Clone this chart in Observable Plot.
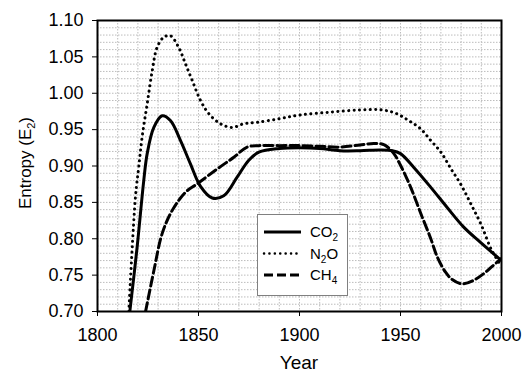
<!DOCTYPE html>
<html><head><meta charset="utf-8">
<script src="https://cdn.jsdelivr.net/npm/d3@7"></script>
<script src="https://cdn.jsdelivr.net/npm/@observablehq/plot@0.6"></script>
<style>
body{margin:0;background:#fff}
#chart svg{font-family:"Liberation Sans",Arial,sans-serif;display:block}
</style>
</head><body><div id="chart"></div>
<script>
const xTicks = [1800, 1850, 1900, 1950, 2000];
const yTicks = [0.70, 0.75, 0.80, 0.85, 0.90, 0.95, 1.00, 1.05, 1.10];

const co2Year = [1816.0,1819.6,1822.9,1824.6,1827.9,1832.0,1836.1,1841.1,1846.0,1851.0,1856.8,1862.5,1869.2,1874.9,1879.9,1890,1900,1910,1920,1930,1940,1946,1950,1956.6,1964.9,1973.1,1981.3,1989.6,2000];
const co2Value = [0.70,0.788,0.88,0.917,0.953,0.969,0.9625,0.935,0.903,0.872,0.856,0.859,0.885,0.908,0.919,0.924,0.925,0.924,0.921,0.921,0.922,0.921,0.917,0.898,0.871,0.843,0.816,0.795,0.770];

const n2oYear = [1815.5,1818.8,1820.4,1822.1,1824.6,1827.1,1829.5,1832.8,1836.1,1840.2,1843.6,1846.9,1851.0,1855.1,1860.9,1866.7,1872.4,1879,1890,1900,1915,1930,1941,1948,1954,1960,1965,1970,1975,1980,1985,1990,1995,2000];
const n2oValue = [0.70,0.858,0.898,0.940,0.9855,1.031,1.063,1.077,1.079,1.063,1.040,1.0175,0.99,0.972,0.958,0.953,0.958,0.960,0.965,0.970,0.974,0.977,0.977,0.972,0.9625,0.951,0.935,0.919,0.896,0.874,0.847,0.819,0.785,0.762];

const ch4Year = [1823.8,1827.9,1832.0,1837.0,1843.6,1849.4,1859.3,1867.5,1874.1,1879.9,1890,1900,1910,1920,1930,1937,1942,1946.7,1950,1955,1960,1965,1968.2,1972.3,1975.6,1980.5,1986.3,1991.2,1995.4,2000];
const ch4Value = [0.70,0.756,0.807,0.839,0.864,0.8755,0.896,0.912,0.926,0.928,0.928,0.928,0.927,0.926,0.929,0.931,0.929,0.917,0.901,0.871,0.835,0.800,0.775,0.754,0.744,0.738,0.743,0.752,0.762,0.773];

const toRows = (ys, vs) => ys.map((y, i) => ({year: y, value: vs[i]}));
const co2 = toRows(co2Year, co2Value);
const n2o = toRows(n2oYear, n2oValue);
const ch4 = toRows(ch4Year, ch4Value);

const gridX = d3.range(1810, 2000, 10);
const gridY = d3.range(71, 110, 1).map(d => d / 100);

const plot = Plot.plot({
  width: 523,
  height: 374,
  marginLeft: 97,
  marginRight: 22,
  marginTop: 20,
  marginBottom: 63,
  style: {fontSize: "18px", fontFamily: "Liberation Sans, Arial, sans-serif", color: "#000", background: "#fff"},
  x: {domain: [1800, 2000]},
  y: {domain: [0.70, 1.10]},
  marks: [
    Plot.ruleX(gridX, {stroke: "#bcbcbc", strokeWidth: 1, strokeDasharray: "1.5 1.5"}),
    Plot.ruleY(gridY, {stroke: "#bcbcbc", strokeWidth: 1, strokeDasharray: "1.5 1.5"}),
    Plot.line(co2, {x: "year", y: "value", curve: "catmull-rom", stroke: "#000", strokeWidth: 3, clip: true}),
    Plot.line(n2o, {x: "year", y: "value", curve: "catmull-rom", stroke: "#000", strokeWidth: 3, strokeDasharray: "0.1 5.3", strokeLinecap: "round", clip: true}),
    Plot.line(ch4, {x: "year", y: "value", curve: "catmull-rom", stroke: "#000", strokeWidth: 3, strokeDasharray: "9 4", clip: true}),
    Plot.frame({stroke: "#000", strokeWidth: 2}),
    Plot.axisX({ticks: xTicks, tickFormat: d => String(d), tickSize: 5, tickPadding: 12, label: null, fontSize: 18}),
    Plot.axisY({ticks: yTicks, tickFormat: d3.format(".2f"), tickSize: 5, tickPadding: 9, label: null, fontSize: 18})
  ]
});
document.getElementById("chart").appendChild(plot);

const svg = d3.select(plot);
// axis titles
svg.append("text").attr("x", 299).attr("y", 369).attr("text-anchor", "middle")
  .attr("font-size", 19).attr("fill", "#000").text("Year");
const yl = svg.append("text").attr("transform", "translate(31,163) rotate(-90)")
  .attr("text-anchor", "middle").attr("font-size", 17).attr("fill", "#000");
yl.append("tspan").text("Entropy (E");
yl.append("tspan").attr("font-size", 11).attr("dy", 4).text("2");
yl.append("tspan").attr("dy", -4).text(")");

// legend
const legendItems = [
  {name: "CO", sub: "2", tail: "", dash: null},
  {name: "N", sub: "2", tail: "O", dash: "0.1 5.3"},
  {name: "CH", sub: "4", tail: "", dash: "9 4"}
];
const lg = svg.append("g");
lg.append("rect").attr("x", 257.5).attr("y", 214.5).attr("width", 90).attr("height", 81)
  .attr("fill", "#fff").attr("stroke", "#808080").attr("stroke-width", 1);
legendItems.forEach((it, i) => {
  const y = 232 + i * 21.5;
  const ln = lg.append("line").attr("x1", 264).attr("x2", 301).attr("y1", y).attr("y2", y)
    .attr("stroke", "#000").attr("stroke-width", 3);
  if (it.dash) ln.attr("stroke-dasharray", it.dash);
  if (it.dash && it.dash.startsWith("0.1")) ln.attr("stroke-linecap", "round").attr("stroke-width", 2.5);
  const t = lg.append("text").attr("x", 310).attr("y", y + 5).attr("font-size", 15)
    .attr("text-anchor", "start").attr("fill", "#000");
  t.append("tspan").text(it.name);
  t.append("tspan").attr("font-size", 10).attr("dy", 4).text(it.sub);
  if (it.tail) t.append("tspan").attr("dy", -4).text(it.tail);
});
</script>
</body></html>
